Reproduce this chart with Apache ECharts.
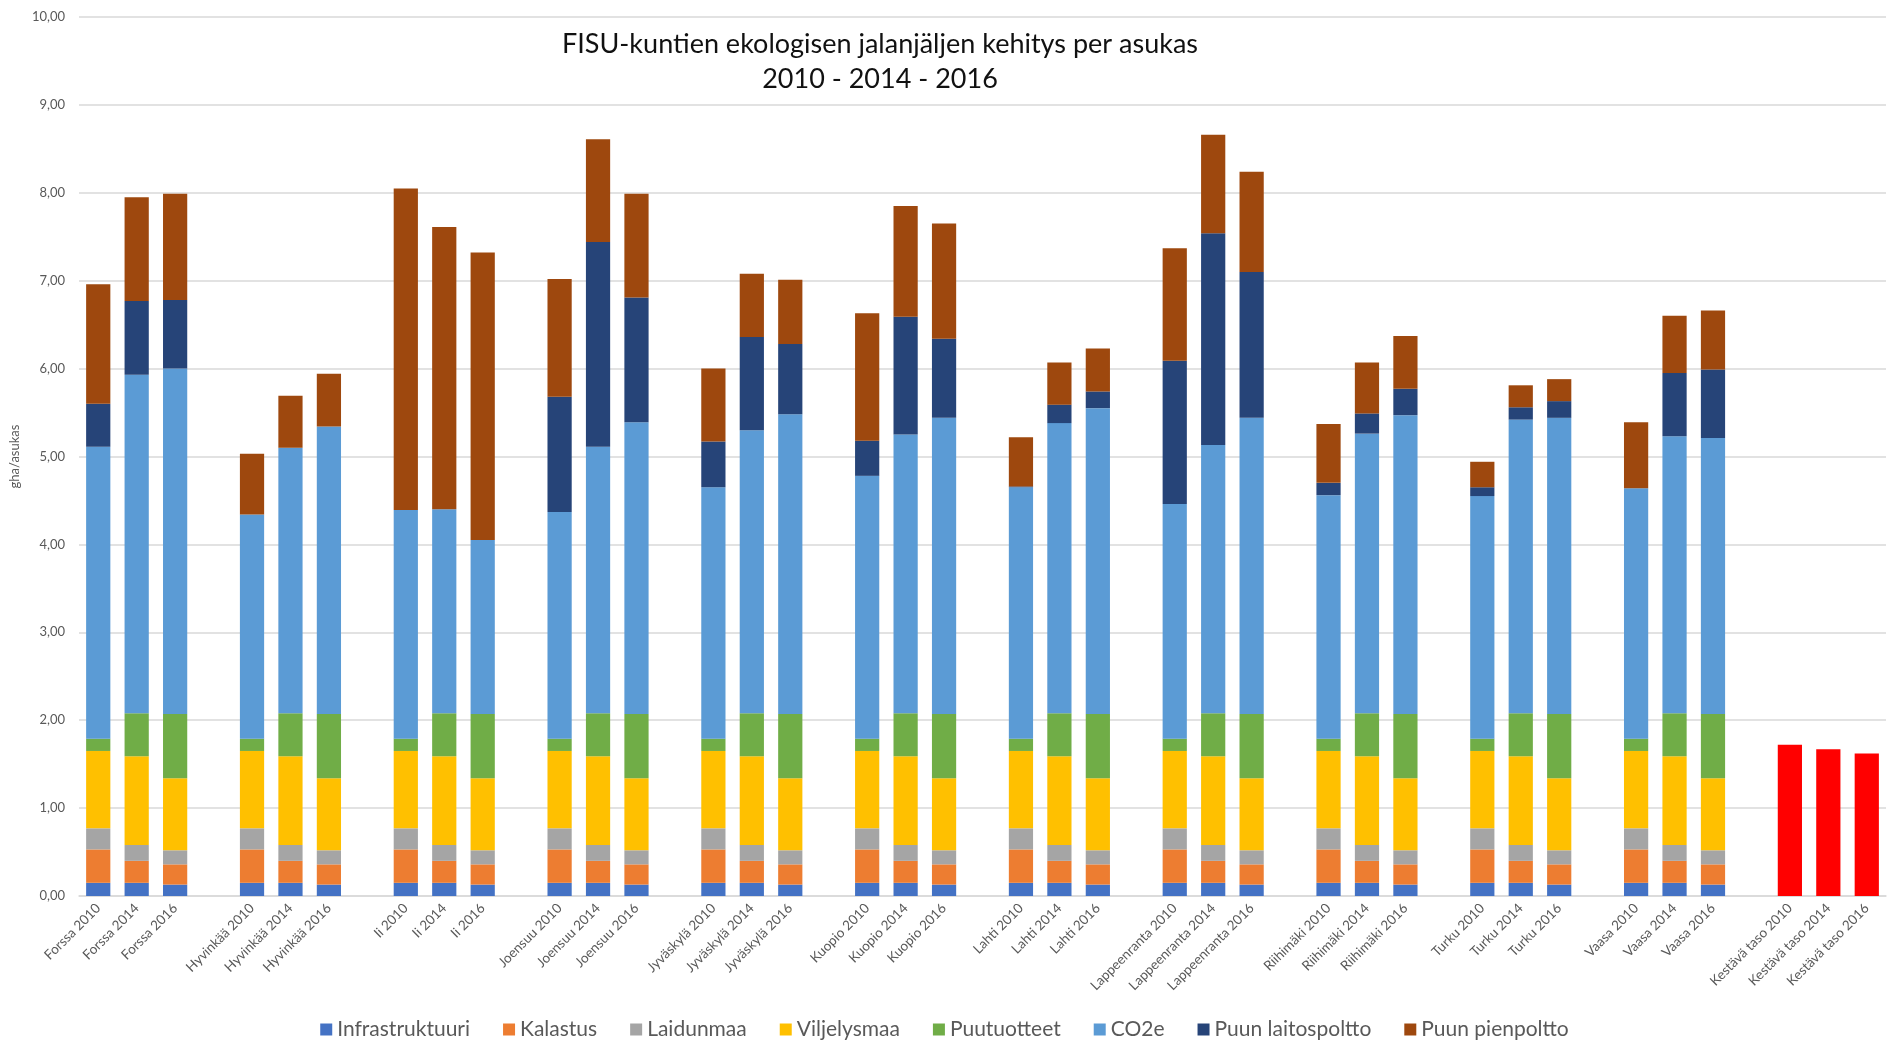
<!DOCTYPE html>
<html>
<head>
<meta charset="utf-8">
<script src="https://cdn.jsdelivr.net/npm/echarts@6/dist/echarts.min.js"></script>
<style>html,body{margin:0;padding:0;background:#fff;}#c{width:1889px;height:1045px;}</style>
</head>
<body>
<div id="c"></div>
<script>
const n = null;
const categories = [
'Forssa 2010','Forssa 2014','Forssa 2016','',
'Hyvinkää 2010','Hyvinkää 2014','Hyvinkää 2016','',
'Ii 2010','Ii 2014','Ii 2016','',
'Joensuu 2010','Joensuu 2014','Joensuu 2016','',
'Jyväskylä 2010','Jyväskylä 2014','Jyväskylä 2016','',
'Kuopio 2010','Kuopio 2014','Kuopio 2016','',
'Lahti 2010','Lahti 2014','Lahti 2016','',
'Lappeenranta 2010','Lappeenranta 2014','Lappeenranta 2016','',
'Riihimäki 2010','Riihimäki 2014','Riihimäki 2016','',
'Turku 2010','Turku 2014','Turku 2016','',
'Vaasa 2010','Vaasa 2014','Vaasa 2016','',
'Kestävä taso 2010','Kestävä taso 2014','Kestävä taso 2016'];

const infrastruktuuri = [0.15,0.15,0.13,n, 0.15,0.15,0.13,n, 0.15,0.15,0.13,n, 0.15,0.15,0.13,n, 0.15,0.15,0.13,n, 0.15,0.15,0.13,n, 0.15,0.15,0.13,n, 0.15,0.15,0.13,n, 0.15,0.15,0.13,n, 0.15,0.15,0.13,n, 0.15,0.15,0.13,n, n,n,n];
const kalastus = [0.38,0.25,0.23,n, 0.38,0.25,0.23,n, 0.38,0.25,0.23,n, 0.38,0.25,0.23,n, 0.38,0.25,0.23,n, 0.38,0.25,0.23,n, 0.38,0.25,0.23,n, 0.38,0.25,0.23,n, 0.38,0.25,0.23,n, 0.38,0.25,0.23,n, 0.38,0.25,0.23,n, n,n,n];
const laidunmaa = [0.24,0.18,0.16,n, 0.24,0.18,0.16,n, 0.24,0.18,0.16,n, 0.24,0.18,0.16,n, 0.24,0.18,0.16,n, 0.24,0.18,0.16,n, 0.24,0.18,0.16,n, 0.24,0.18,0.16,n, 0.24,0.18,0.16,n, 0.24,0.18,0.16,n, 0.24,0.18,0.16,n, n,n,n];
const viljelysmaa = [0.88,1.01,0.82,n, 0.88,1.01,0.82,n, 0.88,1.01,0.82,n, 0.88,1.01,0.82,n, 0.88,1.01,0.82,n, 0.88,1.01,0.82,n, 0.88,1.01,0.82,n, 0.88,1.01,0.82,n, 0.88,1.01,0.82,n, 0.88,1.01,0.82,n, 0.88,1.01,0.82,n, n,n,n];
const puutuotteet = [0.14,0.49,0.73,n, 0.14,0.49,0.73,n, 0.14,0.49,0.73,n, 0.14,0.49,0.73,n, 0.14,0.49,0.73,n, 0.14,0.49,0.73,n, 0.14,0.49,0.73,n, 0.14,0.49,0.73,n, 0.14,0.49,0.73,n, 0.14,0.49,0.73,n, 0.14,0.49,0.73,n, n,n,n];
const co2e = [3.32,3.85,3.93,n, 2.55,3.02,3.27,n, 2.60,2.32,1.98,n, 2.58,3.03,3.32,n, 2.86,3.22,3.41,n, 2.99,3.17,3.37,n, 2.86,3.30,3.48,n, 2.67,3.05,3.37,n, 2.77,3.18,3.40,n, 2.76,3.34,3.37,n, 2.85,3.15,3.14,n, n,n,n];
const laitospoltto = [0.49,0.84,0.78,n, 0,0,0,n, 0,0,0,n, 1.31,2.33,1.42,n, 0.52,1.06,0.80,n, 0.40,1.34,0.90,n, 0.01,0.21,0.19,n, 1.63,2.41,1.66,n, 0.14,0.23,0.30,n, 0.10,0.14,0.19,n, 0,0.72,0.78,n, n,n,n];
const pienpoltto = [1.36,1.18,1.21,n, 0.69,0.59,0.60,n, 3.66,3.21,3.27,n, 1.34,1.17,1.18,n, 0.83,0.72,0.73,n, 1.45,1.26,1.31,n, 0.56,0.48,0.49,n, 1.28,1.12,1.14,n, 0.67,0.58,0.60,n, 0.29,0.25,0.25,n, 0.75,0.65,0.67,n, n,n,n];
const kestavaTaso = [n,n,n,n, n,n,n,n, n,n,n,n, n,n,n,n, n,n,n,n, n,n,n,n, n,n,n,n, n,n,n,n, n,n,n,n, n,n,n,n, n,n,n,n, 1.72,1.67,1.62];

const seriesNames = ['Infrastruktuuri','Kalastus','Laidunmaa','Viljelysmaa','Puutuotteet','CO2e','Puun laitospoltto','Puun pienpoltto'];
const seriesData = [infrastruktuuri,kalastus,laidunmaa,viljelysmaa,puutuotteet,co2e,laitospoltto,pienpoltto];
const colors = ['#4472C4','#ED7D31','#A5A5A5','#FFC000','#70AD47','#5B9BD5','#264478','#9E480E'];
const FONT = 'Lato';

const chart = echarts.init(document.getElementById('c'), null, {renderer:'canvas'});
const series = seriesNames.map((nm,i)=>({
  name: nm, type:'bar', stack:'total', data: seriesData[i],
  barCategoryGap:'37%', itemStyle:{color:colors[i]}
}));
series.push({name:'Kestävä taso', type:'bar', stack:'total', data:kestavaTaso, itemStyle:{color:'#FF0000'}});

chart.setOption({
  animation:false,
  color: colors,
  grid:{left:77, right:3, top:17, bottom:149},
  graphic:[
    {type:'text', x:880, y:44, style:{text:'FISU-kuntien ekologisen jalanjäljen kehitys per asukas', fill:'#111', font:'27px Lato', align:'center', verticalAlign:'middle'}},
    {type:'text', x:880, y:79, style:{text:'2010 - 2014 - 2016', fill:'#111', font:'27px Lato', align:'center', verticalAlign:'middle'}}
  ],
  legend:{
    data: seriesNames, top:1014, left:'center', icon:'rect', itemWidth:12, itemHeight:12, itemGap:33,
    textStyle:{color:'#595959', fontSize:21, fontFamily:FONT}
  },
  xAxis:{
    type:'category', data:categories,
    axisTick:{show:false},
    axisLine:{lineStyle:{color:'#D9D9D9', width:1.5}},
    axisLabel:{interval:0, rotate:45, color:'#595959', fontSize:13.5, fontFamily:FONT, margin:10}
  },
  yAxis:{
    type:'value', min:0, max:10, interval:1,
    name:'gha/asukas', nameLocation:'middle', nameGap:56, nameRotate:90,
    nameTextStyle:{color:'#595959', fontSize:13, fontFamily:FONT},
    axisLine:{show:false}, axisTick:{show:false},
    axisLabel:{color:'#595959', fontSize:13, fontFamily:FONT, margin:14, formatter:v=>v.toFixed(2).replace('.',',')},
    splitLine:{lineStyle:{color:'#D9D9D9', width:1.5}}
  },
  series: series
});
</script>
</body>
</html>
